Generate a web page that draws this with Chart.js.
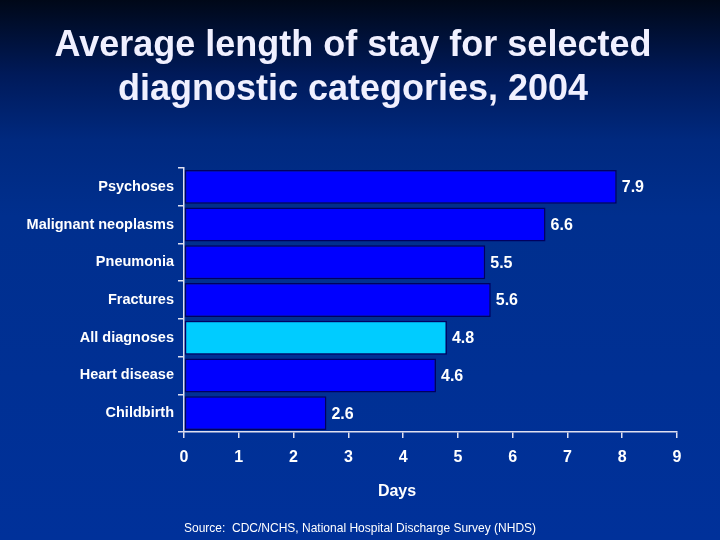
<!DOCTYPE html>
<html>
<head>
<meta charset="utf-8">
<script src="https://cdn.jsdelivr.net/npm/chart.js@4/dist/chart.umd.min.js"></script>
<style>
  html, body { margin: 0; padding: 0; }
  body {
    width: 720px; height: 540px; overflow: hidden;
    background: linear-gradient(180deg, #000818 0%, #001a5a 14%, #00297f 26%, #002f8e 40%, #00319a 100%);
  }
  #wrap { position: relative; width: 720px; height: 540px; }
</style>
</head>
<body>
<div id="wrap"><canvas id="chart" width="720" height="540"></canvas></div>
<script>
  const categories = ['Psychoses', 'Malignant neoplasms', 'Pneumonia', 'Fractures', 'All diagnoses', 'Heart disease', 'Childbirth'];
  const days = [7.9, 6.6, 5.5, 5.6, 4.8, 4.6, 2.6];
  const xTicks = [0, 1, 2, 3, 4, 5, 6, 7, 8, 9];
  const titleLines = ['Average length of stay for selected', 'diagnostic categories, 2004'];
  const axisTitle = 'Days';
  const sourceText = 'Source:  CDC/NCHS, National Hospital Discharge Survey (NHDS)';

  const FONT = '"Liberation Sans", Arial, sans-serif';

  // bar colour: highlight the "All diagnoses" row
  const barColors = categories.map(c => c === 'All diagnoses' ? '#00ccff' : '#0000ff');

  const textPlugin = {
    id: 'slideText',
    afterDraw(chart) {
      const ctx = chart.ctx;
      ctx.save();
      ctx.fillStyle = '#f0f0ff';
      ctx.textAlign = 'center';
      ctx.textBaseline = 'middle';
      ctx.font = 'bold 36px ' + FONT;
      ctx.fillText(titleLines[0], 353, 46);
      ctx.fillText(titleLines[1], 353, 90);

      // axis title sits left of the plot centre, as on the slide
      ctx.fillStyle = '#ffffff';
      ctx.font = 'bold 16px ' + FONT;
      ctx.fillText(axisTitle, 397, 492);

      ctx.textAlign = 'left';
      ctx.font = '12px ' + FONT;
      ctx.fillText(sourceText, 184, 529);

      // value labels at the end of each bar
      const meta = chart.getDatasetMeta(0);
      ctx.font = 'bold 16px ' + FONT;
      meta.data.forEach((bar, i) => {
        ctx.fillText(days[i].toFixed(1), bar.x + 5, bar.y + 1);
      });
      ctx.restore();
    }
  };

  new Chart(document.getElementById('chart'), {
    type: 'bar',
    data: {
      labels: categories,
      datasets: [{
        data: days,
        backgroundColor: barColors,
        borderColor: '#000060',
        borderWidth: 1.5,
        borderSkipped: false,
        barPercentage: 0.9,
        categoryPercentage: 1
      }]
    },
    options: {
      indexAxis: 'y',
      responsive: false,
      animation: false,
      layout: { padding: { top: 168, right: 43, left: 0, bottom: 0 } },
      plugins: {
        legend: { display: false },
        tooltip: { enabled: false }
      },
      scales: {
        x: {
          min: 0,
          max: 9,
          afterFit(scale) { scale.height = 108; },
          afterBuildTicks(scale) { scale.ticks = xTicks.map(v => ({ value: v })); },
          border: { color: '#e0e0f0', width: 1.5 },
          grid: { drawOnChartArea: false, color: '#e0e0f0', tickLength: 6, lineWidth: 1.5 },
          ticks: { color: '#ffffff', font: { family: FONT, size: 16, weight: 'bold' }, padding: 10 }
        },
        y: {
          afterFit(scale) { scale.width = 184; },
          border: { color: '#e0e0f0', width: 1.5 },
          grid: { drawOnChartArea: false, color: '#e0e0f0', tickLength: 6, lineWidth: 1.5, offset: true },
          ticks: { color: '#ffffff', font: { family: FONT, size: 14.5, weight: 'bold' }, padding: 4 }
        }
      }
    },
    plugins: [textPlugin]
  });
</script>
</body>
</html>
